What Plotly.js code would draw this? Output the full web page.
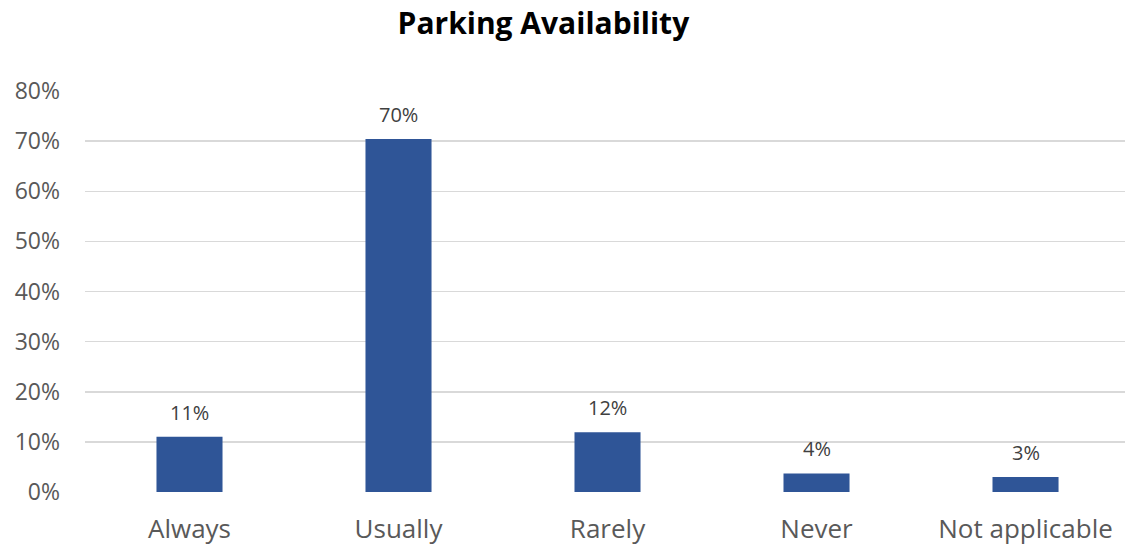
<!DOCTYPE html>
<html>
<head>
<meta charset="utf-8">
<script src="https://cdn.plot.ly/plotly-3.0.1.min.js"></script>
<style>
  html, body { margin: 0; padding: 0; background: #fff; }
  #plot { width: 1125px; height: 550px; }
</style>
</head>
<body>
<div id="plot"></div>
<script>
var categories = ['Always', 'Usually', 'Rarely', 'Never', 'Not applicable'];
var shares = [0.11, 0.704, 0.119, 0.037, 0.03];
var shareLabels = ['11%', '70%', '12%', '4%', '3%'];
var yTicks = [0, 0.1, 0.2, 0.3, 0.4, 0.5, 0.6, 0.7, 0.8];

var bars = {
    x: categories,
    y: shares,
    type: 'bar',
    marker: {color: '#2F5597'},
    hoverinfo: 'skip'
}

// value labels above each bar
var notes = categories.map(function (c, i) {
    return {
        x: c, y: shares[i], text: shareLabels[i],
        xref: 'x', yref: 'y', yanchor: 'bottom',
        showarrow: false, yshift: 9,
        font: {family: 'Open Sans', size: 20, color: '#404040'}
    };
});

var layout = {
    width: 1125,
    height: 550,
    margin: {l: 85, r: 0, t: 91, b: 58},
    paper_bgcolor: '#fff',
    plot_bgcolor: '#fff',
    showlegend: false,
    bargap: 0.684,
    title: {
        text: '<b>Parking Availability</b>',
        font: {family: 'Open Sans', size: 30, color: '#000'},
        x: 0.483, xanchor: 'center',
        y: 1 - 23 / 550, yanchor: 'middle', yref: 'container'
    },
    xaxis: {
        range: [-0.5, 4.476],
        showgrid: false, zeroline: false, showline: false,
        ticks: '',
        ticklabelstandoff: 19,
        tickfont: {family: 'Open Sans', size: 26, color: '#595959'}
    },
    yaxis: {
        range: [0, 0.8],
        tickvals: yTicks,
        tickformat: '.0%',
        showgrid: true, gridcolor: '#D9D9D9', gridwidth: 1.5,
        zeroline: false, showline: false,
        ticks: '',
        ticklabelstandoff: 24,
        tickfont: {family: 'Open Sans', size: 23, color: '#595959'}
    },
    annotations: notes
}

Plotly.newPlot('plot', [bars], layout, {displayModeBar: false, staticPlot: true})
</script>
</body>
</html>
